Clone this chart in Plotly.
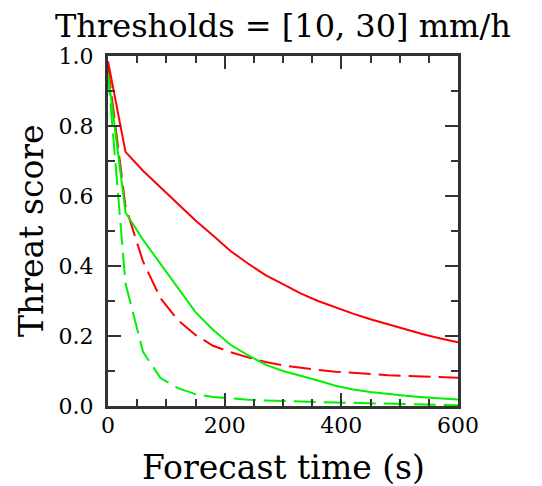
import plotly.graph_objects as go

# Forecast time (s)
time_s = [0, 30, 60, 90, 120, 150, 180, 210, 240, 270, 300, 330, 360, 390, 420, 450, 480, 510, 540, 570, 600]

# Threat scores
red_solid = [0.985, 0.726, 0.672, 0.625, 0.576, 0.530, 0.487, 0.443, 0.407, 0.374, 0.348, 0.322, 0.300, 0.281, 0.264, 0.248, 0.233, 0.219, 0.205, 0.193, 0.182]
red_dash = [0.970, 0.570, 0.413, 0.308, 0.245, 0.203, 0.172, 0.154, 0.139, 0.126, 0.116, 0.109, 0.103, 0.098, 0.094, 0.091, 0.088, 0.086, 0.084, 0.082, 0.081]
green_solid = [0.950, 0.553, 0.475, 0.405, 0.335, 0.268, 0.218, 0.175, 0.145, 0.118, 0.100, 0.087, 0.073, 0.058, 0.047, 0.040, 0.034, 0.029, 0.025, 0.021, 0.0185]
green_dash = [0.950, 0.350, 0.155, 0.080, 0.051, 0.034, 0.026, 0.021, 0.018, 0.016, 0.014, 0.013, 0.011, 0.010, 0.009, 0.008, 0.006, 0.005, 0.004, 0.003, 0.002]

title_text = "Thresholds = [10, 30] mm/h"
x_title = "Forecast time (s)"
y_title = "Threat score"
x_ticks = [0, 200, 400, 600]
y_ticks = [0.0, 0.2, 0.4, 0.6, 0.8, 1.0]
y_ticklabels = ["0.0", "0.2", "0.4", "0.6", "0.8", "1.0"]

RED = "#ff0000"
GREEN = "#00f000"
DASH = "22px,8px"
FONT = "DejaVu Serif"
FRAME = "#333333"

fig = go.Figure()
fig.add_trace(go.Scatter(x=time_s, y=red_solid, mode="lines", line=dict(color=RED, width=2)))
fig.add_trace(go.Scatter(x=time_s, y=red_dash, mode="lines", line=dict(color=RED, width=2, dash=DASH)))
fig.add_trace(go.Scatter(x=time_s, y=green_solid, mode="lines", line=dict(color=GREEN, width=2)))
fig.add_trace(go.Scatter(x=time_s, y=green_dash, mode="lines", line=dict(color=GREEN, width=2, dash=DASH)))

axis_common = dict(
    showgrid=False, zeroline=False, showline=True, linecolor=FRAME, linewidth=3,
    mirror="ticks", ticks="inside", tickcolor=FRAME, tickwidth=2, ticklen=13,
    tickfont=dict(family=FONT, size=22, color="black"),
)

fig.update_layout(
    width=534, height=478,
    margin=dict(l=100, r=84, t=48, b=80),
    paper_bgcolor="white", plot_bgcolor="white",
    showlegend=False,
    xaxis=dict(range=[0, 600], tickvals=x_ticks, ticktext=[str(v) for v in x_ticks],
               minor=dict(dtick=50, tick0=0, ticks="inside", ticklen=7, tickwidth=1.5, tickcolor=FRAME),
               ticklabelstandoff=-2, **axis_common),
    yaxis=dict(range=[0, 1], tickvals=y_ticks, ticktext=y_ticklabels,
               minor=dict(dtick=0.1, tick0=0, ticks="inside", ticklen=7, tickwidth=1.5, tickcolor=FRAME),
               ticklabelstandoff=7, **axis_common),
    annotations=[
        dict(text=title_text, xref="paper", yref="paper", x=0.5, y=1, yshift=30,
             xanchor="center", yanchor="middle", showarrow=False,
             font=dict(family=FONT, size=32, color="black")),
        dict(text=x_title, xref="paper", yref="paper", x=0.5, y=0, yshift=-61,
             xanchor="center", yanchor="middle", showarrow=False,
             font=dict(family=FONT, size=33, color="black")),
        dict(text=y_title, xref="paper", yref="paper", x=0, y=0.5, xshift=-77, textangle=-90,
             xanchor="center", yanchor="middle", showarrow=False,
             font=dict(family=FONT, size=33, color="black")),
    ],
)

fig.write_html("out.html")
